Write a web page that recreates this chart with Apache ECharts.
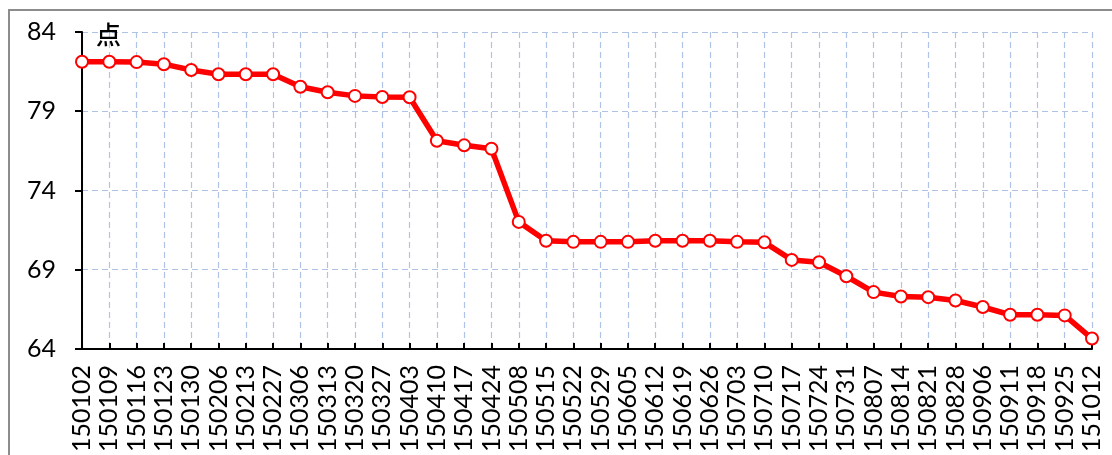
<!DOCTYPE html>
<html>
<head>
<meta charset="utf-8">
<script src="https://cdn.jsdelivr.net/npm/echarts@6/dist/echarts.min.js"></script>
<style>
    html, body { margin: 0; padding: 0; background: #fff; }
    #chart { width: 1112px; height: 455px; }
</style>
</head>
<body>
<div id="chart"></div>
<script>
// 周期（日期代码）
const categories = [
    '150102', '150109', '150116', '150123', '150130', '150206', '150213', '150227',
    '150306', '150313', '150320', '150327', '150403', '150410', '150417', '150424',
    '150508', '150515', '150522', '150529', '150605', '150612', '150619', '150626',
    '150703', '150710', '150717', '150724', '150731', '150807', '150814', '150821',
    '150828', '150906', '150911', '150918', '150925', '151012'
]
// 指数值（点）
const values = [
    82.12, 82.12, 82.10, 81.97, 81.60, 81.33, 81.33, 81.33,
    80.55, 80.20, 79.97, 79.90, 79.88, 77.14, 76.85, 76.63,
    72.02, 70.83, 70.76, 70.76, 70.76, 70.83, 70.83, 70.83,
    70.76, 70.73, 69.62, 69.47, 68.59, 67.59, 67.31, 67.27,
    67.06, 66.65, 66.16, 66.16, 66.12, 64.66
]
const yMin = 64
const yMax = 84
const yStep = 5
const unitName = '点'

const gridColor = '#aec3e6'
const numFont = 'Lato, "Open Sans", sans-serif'

const chart = echarts.init(document.getElementById('chart'))
const option = {
    backgroundColor: '#fff',
    animation: false,
    graphic: [
        {
            type: 'rect',
            shape: { x: 9, y: 10, width: 1200, height: 600 },
            style: { fill: 'none', stroke: '#8c8c8c', lineWidth: 2 },
            silent: true,
        },
    ],
    grid: {
        left: 82,
        right: 20,
        top: 32,
        bottom: 105,
        containLabel: false,
    },
    xAxis: {
        type: 'category',
        data: categories,
        boundaryGap: false,
        axisLine: { lineStyle: { color: '#000', width: 2 } },
        axisTick: { inside: true, length: 6, lineStyle: { color: '#000', width: 2 } },
        axisLabel: {
            rotate: 90,
            interval: 0,
            margin: 16,
            color: '#000',
            fontSize: 25,
            fontFamily: numFont,
        },
        splitLine: {
            show: true,
            lineStyle: { color: gridColor, type: [6, 4], width: 1.2 },
        },
    },
    yAxis: {
        type: 'value',
        min: yMin,
        max: yMax,
        interval: yStep,
        name: unitName,
        nameLocation: 'end',
        nameGap: -2,
        nameTextStyle: {
            color: '#000',
            fontSize: 25,
            fontFamily: '"Noto Sans CJK SC", sans-serif',
            fontWeight: 500,
            align: 'left',
            verticalAlign: 'middle',
            padding: [0, 0, 0, 14],
        },
        axisLine: { show: true, lineStyle: { color: '#000', width: 2 } },
        axisTick: { show: true, length: 7, lineStyle: { color: '#000', width: 2 } },
        axisLabel: {
            margin: 26,
            color: '#000',
            fontSize: 25,
            fontFamily: numFont,
        },
        splitLine: {
            show: true,
            lineStyle: { color: gridColor, type: [6, 4], width: 1.2 },
        },
    },
    series: [
        {
            type: 'line',
            data: values,
            symbol: 'circle',
            symbolSize: 12,
            lineStyle: { color: '#ff0000', width: 5.5 },
            itemStyle: { color: '#fff', borderColor: '#ff0000', borderWidth: 2 },
            z: 3,
        },
    ],
}
chart.setOption(option)
window.addEventListener('resize', () => {
    chart.resize()
})
</script>
</body>
</html>
